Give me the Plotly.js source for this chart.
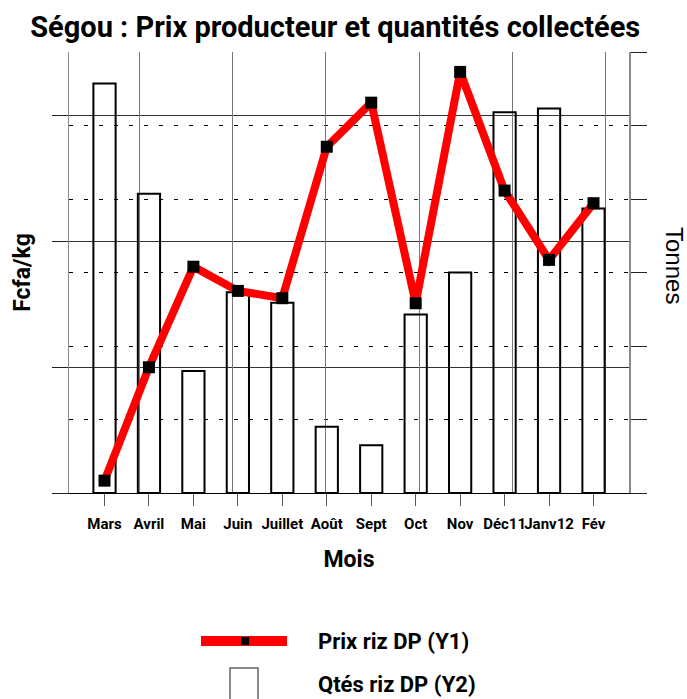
<!DOCTYPE html>
<html>
<head>
<meta charset="utf-8">
<script src="https://cdn.plot.ly/plotly-3.0.1.min.js"></script>
<style>html,body{margin:0;padding:0;background:#fff;}#chart{width:687px;height:699px;}</style>
</head>
<body>
<div id="chart"></div>
<script>
// Data
const mois = ["Mars", "Avril", "Mai", "Juin", "Juillet", "Août", "Sept", "Oct", "Nov", "Déc11", "Janv12", "Fév"];
const prixRizDP = [204.9, 249.9, 289.8, 280.2, 277.3, 337.4, 354.9, 275.3, 367.1, 320.0, 292.5, 315.0]; // Fcfa/kg (Y1)
const qtesRizDP = [557, 407, 166, 273, 259, 90, 65, 243, 300, 518, 523, 387]; // Tonnes (Y2)
const nomPrix = "Prix riz DP (Y1)";
const nomQtes = "Qtés riz DP (Y2)";
const grilleVerticale = [1, 3, 5, 7, 9, 11]; // vertical grid every other month

const NARROW = "Roboto, Liberation Sans, Arial, sans-serif";
const SANS = "Liberation Sans, Arial, sans-serif";

const traces = [
  {
    type: "bar", name: nomQtes, x: mois, y: qtesRizDP, xaxis: "x", yaxis: "y",
    width: 0.5,
    marker: {color: "rgba(255,255,255,0)", line: {color: "#000", width: 2}},
    showlegend: false, hoverinfo: "x+y"
  },
  {
    // invisible helper so the overlay grid axis is drawn
    type: "scatter", mode: "markers", x: grilleVerticale, y: grilleVerticale.map(() => 0),
    xaxis: "x2", yaxis: "y", marker: {opacity: 0, size: 1}, hoverinfo: "skip", showlegend: false
  },
  {
    type: "scatter", mode: "lines+markers", name: nomPrix, x: mois, y: prixRizDP,
    xaxis: "x", yaxis: "y2",
    line: {color: "#ff0000", width: 8},
    marker: {symbol: "square", size: 12, color: "#000"},
    showlegend: false
  }
];

const layout = {
  width: 687, height: 699,
  margin: {l: 69, r: 58, t: 52, b: 206},
  paper_bgcolor: "#fff", plot_bgcolor: "rgba(0,0,0,0)",
  title: {
    text: "<b>Ségou : Prix producteur et quantités collectées</b>",
    font: {family: NARROW, size: 29, color: "#000"},
    xref: "container", x: 0.488, xanchor: "center",
    yref: "container", y: 1 - 27/699, yanchor: "middle"
  },
  xaxis: {
    type: "category", categoryorder: "array", categoryarray: mois,
    showgrid: false, zeroline: false,
    showline: true, linecolor: "#000", linewidth: 1,
    ticks: "outside", ticklen: 12, tickcolor: "#555", tickwidth: 1, tickangle: 0,
    ticklabelstandoff: 5,
    tickfont: {family: NARROW, size: 15, color: "#000", weight: "bold"},
    title: {text: "<b>Mois</b>", font: {family: NARROW, size: 23, color: "#000"}, standoff: 18}
  },
  xaxis2: {
    overlaying: "x", anchor: "y", type: "linear", range: [-0.5, 11.5],
    tickmode: "array", tickvals: grilleVerticale,
    showgrid: true, gridcolor: "#777", gridwidth: 1,
    showticklabels: false, ticks: "", zeroline: false, showline: false
  },
  yaxis: {
    side: "right", range: [0, 600], tickmode: "linear", tick0: 0, dtick: 100,
    showgrid: true, gridcolor: "#000", gridwidth: 1, griddash: "4px,11px",
    zeroline: false, showline: true, linecolor: "#888", linewidth: 2,
    ticks: "outside", ticklen: 16, tickcolor: "#222", tickwidth: 1,
    showticklabels: false
  },
  yaxis2: {
    overlaying: "y", side: "left", range: [200, 375], tickmode: "linear", tick0: 200, dtick: 50,
    showgrid: true, gridcolor: "#333", gridwidth: 1,
    zeroline: false, showline: true, linecolor: "#888", linewidth: 1,
    ticks: "outside", ticklen: 16, tickcolor: "#222", tickwidth: 1,
    showticklabels: false,
    title: {text: "<b>Fcfa/kg</b>", font: {family: NARROW, size: 23, color: "#000"}, standoff: 14}
  },
  shapes: [
    {type: "line", xref: "paper", yref: "paper",
     x0: (201 - 69) / 560, x1: (287 - 69) / 560, y0: (493 - 641) / 441, y1: (493 - 641) / 441,
     line: {color: "#ff0000", width: 10}},
    {type: "rect", xref: "paper", yref: "paper",
     x0: (241 - 69) / 560, x1: (249 - 69) / 560, y0: (493 - 645) / 441, y1: (493 - 637) / 441,
     fillcolor: "#000", line: {width: 0}},
    {type: "rect", xref: "paper", yref: "paper",
     x0: (230 - 69) / 560, x1: (258 - 69) / 560, y0: (493 - 702) / 441, y1: (493 - 668) / 441,
     fillcolor: "rgba(255,255,255,0)", line: {color: "#666", width: 1.5}}
  ],
  annotations: [
    {text: "Tonnes", xref: "paper", yref: "paper", x: (675 - 69) / 560, y: (493 - 265) / 441,
     xanchor: "center", yanchor: "middle", textangle: 90, showarrow: false,
     font: {family: SANS, size: 24, color: "#000"}},
    {text: "<b>" + nomPrix + "</b>", xref: "paper", yref: "paper", x: (316 - 69) / 560, y: (493 - 641) / 441,
     xanchor: "left", yanchor: "middle", showarrow: false,
     font: {family: NARROW, size: 22, color: "#000"}},
    {text: "<b>" + nomQtes + "</b>", xref: "paper", yref: "paper", x: (316 - 69) / 560, y: (493 - 684) / 441,
     xanchor: "left", yanchor: "middle", showarrow: false,
     font: {family: NARROW, size: 22, color: "#000"}}
  ],
  showlegend: false
};

Plotly.newPlot("chart", traces, layout, {displayModeBar: false, staticPlot: true});
</script>
</body>
</html>
